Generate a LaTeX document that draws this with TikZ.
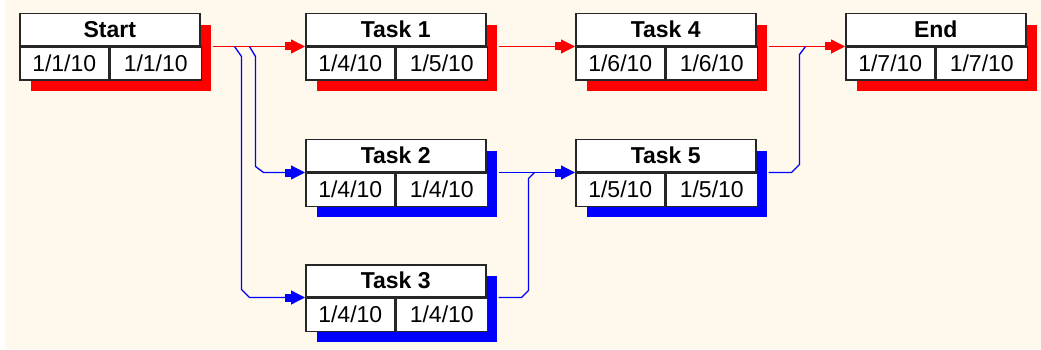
\documentclass[tikz,border=0pt]{standalone}
\usepackage{fontspec}
\setmainfont{Liberation Sans}
\usetikzlibrary{arrows.meta}
\definecolor{bgcream}{RGB}{254,248,237}
\definecolor{shred}{RGB}{255,0,0}
\definecolor{shblue}{RGB}{0,0,255}
\tikzset{
  titlecell/.style={draw=black!85, line width=1.5pt, fill=white, inner sep=0pt,
    minimum width=180pt, minimum height=32pt,
    font=\fontsize{23}{25}\selectfont\bfseries},
  datecell/.style={draw=black!85, line width=1.5pt, fill=white, inner sep=0pt,
    minimum height=33pt, font=\fontsize{23}{25}\selectfont},
  tipshape/.style={-{Rectangle[length=6pt,width=8pt,sep=0pt]Triangle[length=14pt,width=14pt]}},
  redline/.style={draw=shred, line width=1.3pt, tipshape},
  blueline/.style={draw=shblue, line width=1.3pt},
  bluearrow/.style={blueline, tipshape},
}
\newcommand\taskbox[7]{%
  \fill[#4] (#2+12,#3+12) rectangle (#2+192,#3+78);
  \node[titlecell, anchor=north west] (#1) at (#2,#3) {#5};
  \node[datecell, anchor=north west, minimum width=89pt] (#1-a) at (#1.south west) {#6};
  \node[datecell, anchor=north west, minimum width=91pt] (#1-b) at (#1-a.north east) {#7};
}
\begin{document}
\begin{tikzpicture}[x=1pt,y=-1pt]
\useasboundingbox (0,0) rectangle (1041,350);
\fill[white] (0,0) rectangle (1041,350);
\fill[bgcream] (5,0) rectangle (1041,349);

\taskbox{start}{19}{13}{shred}{Start}{1/1/10}{1/1/10}
\taskbox{task1}{305}{13}{shred}{Task 1}{1/4/10}{1/5/10}
\taskbox{task4}{575}{13}{shred}{Task 4}{1/6/10}{1/6/10}
\taskbox{end}{845}{13}{shred}{End}{1/7/10}{1/7/10}
\taskbox{task2}{305}{139}{shblue}{Task 2}{1/4/10}{1/4/10}
\taskbox{task5}{575}{139}{shblue}{Task 5}{1/5/10}{1/5/10}
\taskbox{task3}{305}{264}{shblue}{Task 3}{1/4/10}{1/4/10}

% red critical path
\draw[redline] ([xshift=12pt]start.south east) -- (task1.south west);
\draw[redline] ([xshift=12pt]task1.south east) -- (task4.south west);
\draw[redline] ([xshift=12pt]task4.south east) -- (end.south west);

% blue branches
\draw[bluearrow] ([xshift=49pt]start.south east) -- ++(6,10) -- ++(0,110) -- ++(8,6) -- (task2.south west);
\draw[bluearrow] ([xshift=34pt]start.south east) -- ++(7,10) -- ++(0,233) -- ++(8,8) -- (task3.south west);
\draw[bluearrow] ([xshift=12pt]task2.south east) -- (task5.south west);
\draw[blueline] ([xshift=12pt]task3.south east) -- ++(23,0) -- ++(7,-7) -- ++(0,-112) -- ++(6,-6);
\draw[blueline] ([xshift=12pt]task5.south east) -- ++(23,0) -- ++(8,-8) -- ++(0,-110) -- ++(6,-8);
\end{tikzpicture}
\end{document}
